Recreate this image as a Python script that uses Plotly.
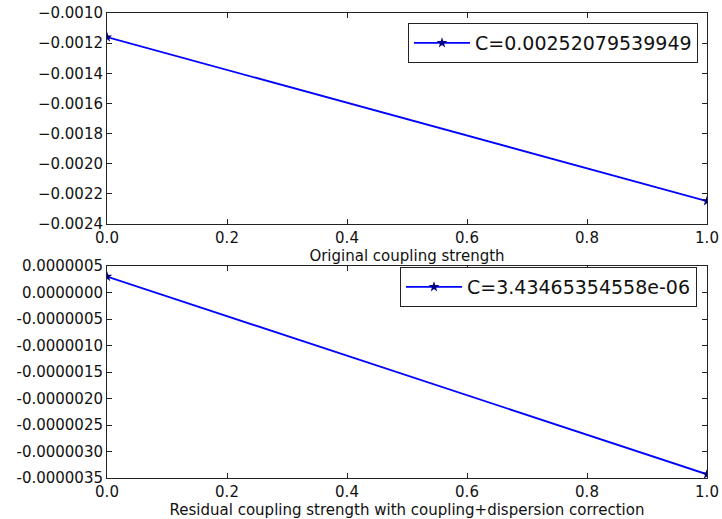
import plotly.graph_objects as go

x_vals = [0.0, 1.0]
y_original = [-0.00116, -0.002248]
y_residual = [3.0e-07, -3.43e-06]

label_original = "C=0.00252079539949"
label_residual = "C=3.43465354558e-06"

x_ticks = [0.0, 0.2, 0.4, 0.6, 0.8, 1.0]
x_ticktext = ["0.0", "0.2", "0.4", "0.6", "0.8", "1.0"]

top_ticks = [-0.0010, -0.0012, -0.0014, -0.0016, -0.0018, -0.0020, -0.0022, -0.0024]
top_ticktext = ["\u22120.0010", "\u22120.0012", "\u22120.0014", "\u22120.0016",
                "\u22120.0018", "\u22120.0020", "\u22120.0022", "\u22120.0024"]
bot_ticks = [5e-7, 0.0, -5e-7, -1e-6, -1.5e-6, -2e-6, -2.5e-6, -3e-6, -3.5e-6]
bot_ticktext = ["0.0000005", "0.0000000", "-0.0000005", "-0.0000010", "-0.0000015",
                "-0.0000020", "-0.0000025", "-0.0000030", "-0.0000035"]

W, H = 722, 519
FONT = "DejaVu Sans"

fig = go.Figure()
fig.add_trace(go.Scatter(
    x=x_vals, y=y_original, mode="lines+markers", name=label_original,
    line=dict(color="#0000ff", width=1.8),
    marker=dict(symbol="star", size=8, color="#00007f"),
    xaxis="x", yaxis="y", legend="legend", showlegend=True))
fig.add_trace(go.Scatter(
    x=x_vals, y=y_residual, mode="lines+markers", name=label_residual,
    line=dict(color="#0000ff", width=1.8),
    marker=dict(symbol="star", size=8, color="#00007f"),
    xaxis="x2", yaxis="y2", legend="legend2", showlegend=True))

def px_x(p):
    return p / W

def px_y(p):
    return 1 - p / H

axis_common = dict(showgrid=False, zeroline=False, showline=True, linecolor="#222",
                   linewidth=1, mirror="allticks", ticks="inside", ticklen=5,
                   tickcolor="#222", automargin=False,
                   tickfont=dict(family=FONT, size=15, color="#111"))

legend_common = dict(xanchor="right", yanchor="top", bordercolor="#222", borderwidth=1,
                     bgcolor="white", itemwidth=56,
                     font=dict(family=FONT, size=19, color="#111"))

fig.update_layout(
    width=W, height=H,
    margin=dict(l=0, r=0, t=0, b=0, autoexpand=False),
    paper_bgcolor="white", plot_bgcolor="white",
    showlegend=True,
    font=dict(family=FONT, size=15, color="#111"),
    xaxis=dict(domain=[px_x(107), px_x(707)], range=[0, 1], anchor="y",
               tickvals=x_ticks, ticktext=x_ticktext,
               title=dict(text="Original coupling strength", standoff=0,
                          font=dict(family=FONT, size=15, color="#111")),
               **axis_common),
    yaxis=dict(domain=[px_y(224), px_y(13)], range=[-0.0024, -0.0010], anchor="x",
               tickvals=top_ticks, ticktext=top_ticktext, **axis_common),
    xaxis2=dict(domain=[px_x(107), px_x(707)], range=[0, 1], anchor="y2",
                tickvals=x_ticks, ticktext=x_ticktext,
                title=dict(text="Residual coupling strength with coupling+dispersion correction",
                           standoff=0, font=dict(family=FONT, size=15, color="#111")),
                **axis_common),
    yaxis2=dict(domain=[px_y(478), px_y(266)], range=[-3.5e-6, 5e-7], anchor="x2",
                tickvals=bot_ticks, ticktext=bot_ticktext, **axis_common),
    legend=dict(x=px_x(698), y=px_y(23), **legend_common),
    legend2=dict(x=px_x(697), y=px_y(267), **legend_common),
)

fig.write_html("out.html", config={"displayModeBar": False},
               post_script="document.body.style.margin='0';document.body.style.overflow='hidden';")
